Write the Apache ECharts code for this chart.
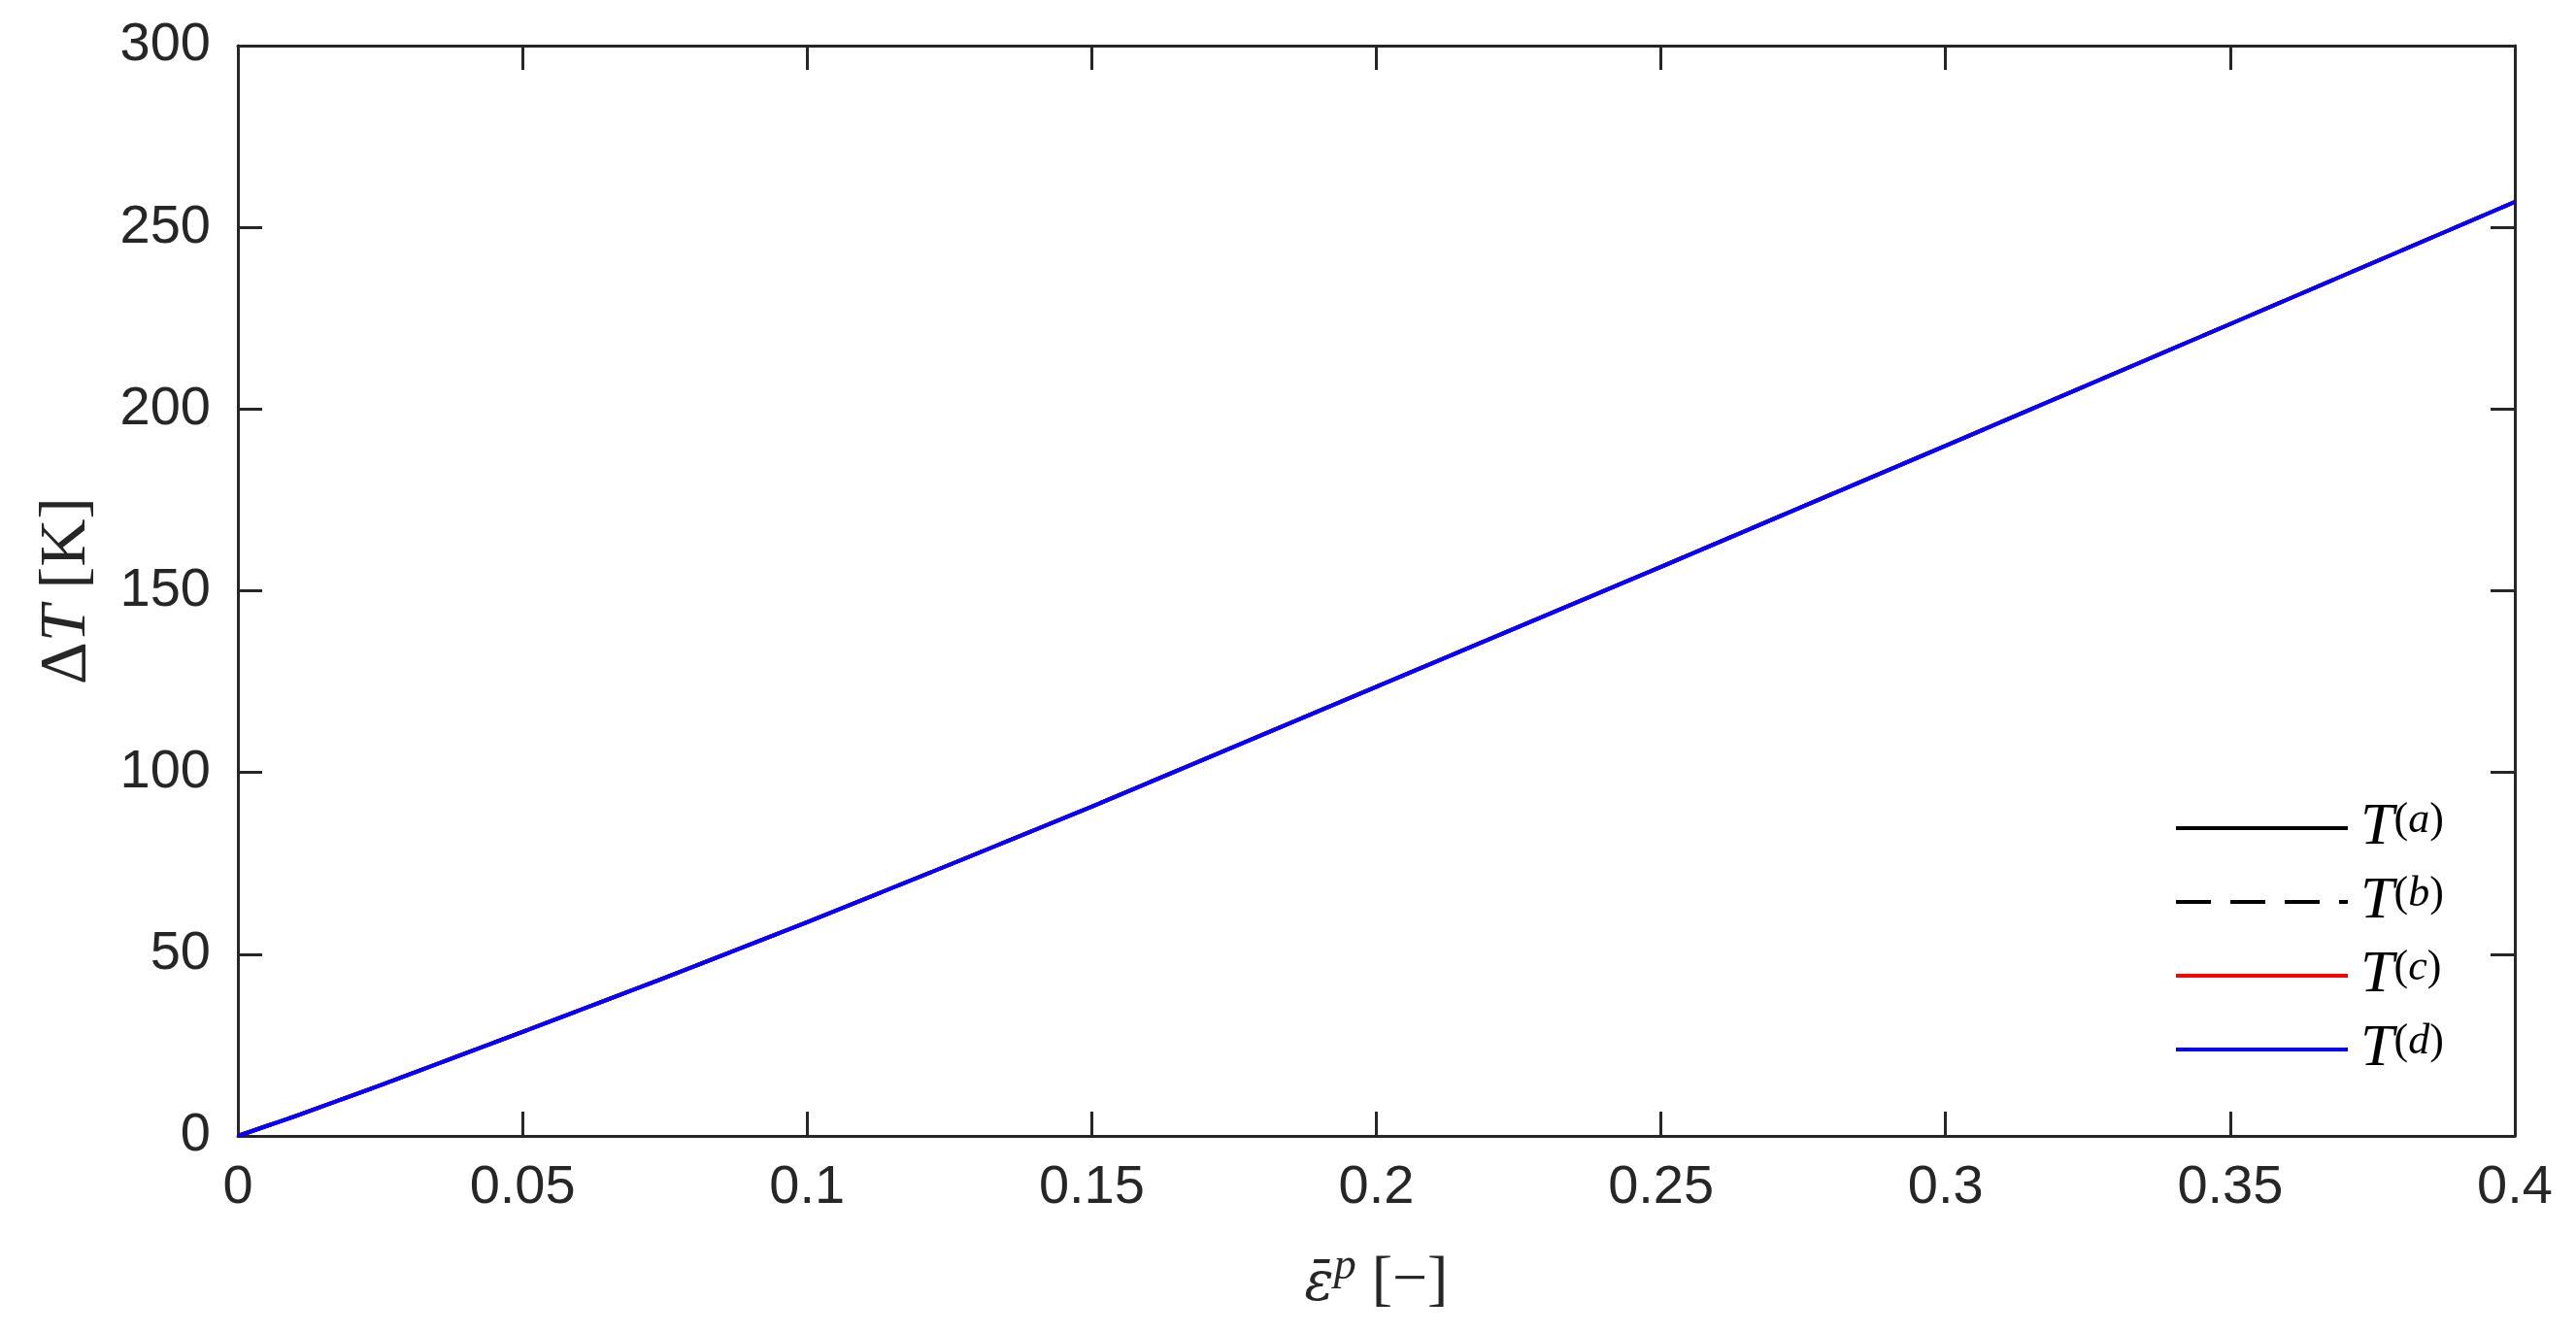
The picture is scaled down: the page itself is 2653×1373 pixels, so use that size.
<!DOCTYPE html>
<html>
<head>
<meta charset="utf-8">
<script src="https://cdn.jsdelivr.net/npm/echarts@6/dist/echarts.min.js"></script>
<style>
  html, body { margin: 0; padding: 0; background: #fff; }
  #chart { width: 2653px; height: 1373px; }
</style>
</head>
<body>
<div id="chart"></div>
<script>
// plastic strain values (x) and temperature rise (y)
const epsP = [0, 0.01, 0.025, 0.05, 0.075, 0.1, 0.125, 0.15, 0.175, 0.2, 0.25, 0.3, 0.35, 0.4];
// the four curves lie on top of each other
const tempA = [0, 5.4, 13.9, 28.6, 43.5, 58.8, 74.6, 90.6, 107.1, 123.6, 156.6, 189.9, 223.4, 257.0];
const tempB = tempA.slice();
const tempC = tempA.slice();
const tempD = tempA.slice();
const seriesNames = ['T(a)', 'T(b)', 'T(c)', 'T(d)'];
const xTicks = { min: 0, max: 0.4, interval: 0.05 };
const yTicks = { min: 0, max: 300, interval: 50 };

const axisColor = '#262626';
const serif = '"Liberation Serif", "DejaVu Serif", serif';
const sans = '"Liberation Sans", Arial, Helvetica, sans-serif';

function pairs(xs, ys) {
  return xs.map((x, i) => [x, ys[i]]);
}

const chart = echarts.init(document.getElementById('chart'));

const axisLine = { show: true, onZero: false, lineStyle: { color: axisColor, width: 3 } };
const axisTick = { show: true, inside: true, length: 25, lineStyle: { color: axisColor, width: 3 } };

const option = {
  backgroundColor: '#fff',
  animation: false,
  grid: { left: 245, right: 63, top: 47, bottom: 203 },
  legend: {
    orient: 'vertical',
    left: 2239,
    top: 822,
    padding: 0,
    itemWidth: 177,
    itemHeight: 14,
    itemGap: 14,
    data: seriesNames,
    itemStyle: { opacity: 0 },
    lineStyle: { width: 4 },
    formatter: function (name) {
      const letter = name.charAt(2);
      return '{t|T}{p|(}{s|' + letter + '}{p|)}';
    },
    textStyle: {
      color: '#000',
      rich: {
        t: { fontFamily: serif, fontStyle: 'italic', fontSize: 62, lineHeight: 60, padding: [0, 0, 0, 8] },
        p: { fontFamily: serif, fontSize: 44, lineHeight: 60, verticalAlign: 'top' },
        s: { fontFamily: serif, fontStyle: 'italic', fontSize: 44, lineHeight: 60, verticalAlign: 'top' }
      }
    }
  },
  xAxis: [
    {
      type: 'value',
      min: xTicks.min,
      max: xTicks.max,
      interval: xTicks.interval,
      position: 'bottom',
      axisLine: axisLine,
      axisTick: axisTick,
      splitLine: { show: false },
      axisLabel: { color: axisColor, fontFamily: sans, fontSize: 56, margin: 26 },
      name: '{i|ε̄}{sup|p}{n| [−]}',
      nameLocation: 'middle',
      nameGap: 112,
      nameTextStyle: {
        color: axisColor,
        rich: {
          i: { fontFamily: '"DejaVu Serif", serif', fontStyle: 'italic', fontSize: 56, lineHeight: 70, verticalAlign: 'bottom' },
          sup: { fontFamily: serif, fontStyle: 'italic', fontSize: 46, lineHeight: 70, verticalAlign: 'top' },
          n: { fontFamily: serif, fontSize: 64, lineHeight: 70, verticalAlign: 'bottom' }
        }
      }
    },
    {
      type: 'value',
      min: xTicks.min,
      max: xTicks.max,
      interval: xTicks.interval,
      position: 'top',
      axisLine: axisLine,
      axisTick: axisTick,
      axisLabel: { show: false },
      splitLine: { show: false }
    }
  ],
  yAxis: [
    {
      type: 'value',
      min: yTicks.min,
      max: yTicks.max,
      interval: yTicks.interval,
      position: 'left',
      axisLine: axisLine,
      axisTick: axisTick,
      splitLine: { show: false },
      axisLabel: { color: axisColor, fontFamily: sans, fontSize: 56, margin: 28, padding: [6, 0, 0, 0] },
      name: '{n|Δ}{i|T}{n| [K]}',
      nameLocation: 'middle',
      nameGap: 142,
      nameRotate: 90,
      nameTextStyle: {
        color: axisColor,
        rich: {
          n: { fontFamily: serif, fontSize: 68 },
          i: { fontFamily: serif, fontStyle: 'italic', fontSize: 68 }
        }
      }
    },
    {
      type: 'value',
      min: yTicks.min,
      max: yTicks.max,
      interval: yTicks.interval,
      position: 'right',
      axisLine: axisLine,
      axisTick: axisTick,
      axisLabel: { show: false },
      splitLine: { show: false }
    }
  ],
  series: [
    {
      name: seriesNames[0], type: 'line', showSymbol: false, symbol: 'none',
      lineStyle: { color: '#000', width: 4 }, itemStyle: { color: '#000' },
      data: pairs(epsP, tempA)
    },
    {
      name: seriesNames[1], type: 'line', showSymbol: false, symbol: 'none',
      lineStyle: { color: '#000', width: 4, type: [36, 20] }, itemStyle: { color: '#000' },
      data: pairs(epsP, tempB)
    },
    {
      name: seriesNames[2], type: 'line', showSymbol: false, symbol: 'none',
      lineStyle: { color: '#ff0000', width: 4 }, itemStyle: { color: '#ff0000' },
      data: pairs(epsP, tempC)
    },
    {
      name: seriesNames[3], type: 'line', showSymbol: false, symbol: 'none',
      lineStyle: { color: '#0000ff', width: 4 }, itemStyle: { color: '#0000ff' },
      data: pairs(epsP, tempD)
    }
  ]
};

chart.setOption(option);
</script>
</body>
</html>
